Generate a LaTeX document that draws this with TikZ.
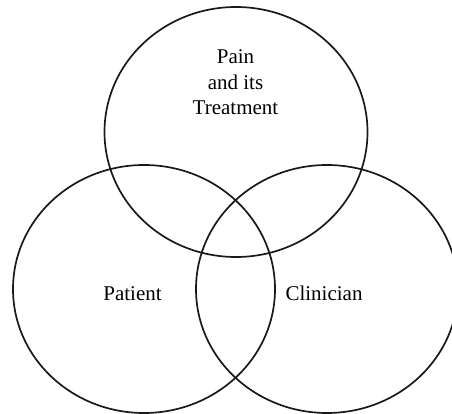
\documentclass[tikz,border=0pt]{standalone}
\usepackage{fontspec}
\setmainfont{Liberation Serif}
\begin{document}
\begin{tikzpicture}[x=1pt,y=-1pt,
  ring/.style={line width=1.7pt, draw=black!90},
  lbl/.style={font=\fontsize{21}{25.5}\selectfont, align=center, inner sep=0pt}]
\useasboundingbox (0,0) rectangle (452,414);
\coordinate (ct) at (236,132);
\coordinate (cl) at (144,289);
\coordinate (cr) at (327,289);
\draw[ring] (ct) ellipse [x radius=131.5, y radius=125];
\draw[ring] (cl) ellipse [x radius=131, y radius=124];
\draw[ring] (cr) ellipse [x radius=131, y radius=124];
\node[lbl, anchor=base] (pain) at (235.5,115) {Pain\\and its\\Treatment};
\node[lbl, anchor=base] (patient) at (132.5,300) {Patient};
\node[lbl, anchor=base] (clinician) at (324,300) {Clinician};
\end{tikzpicture}
\end{document}
